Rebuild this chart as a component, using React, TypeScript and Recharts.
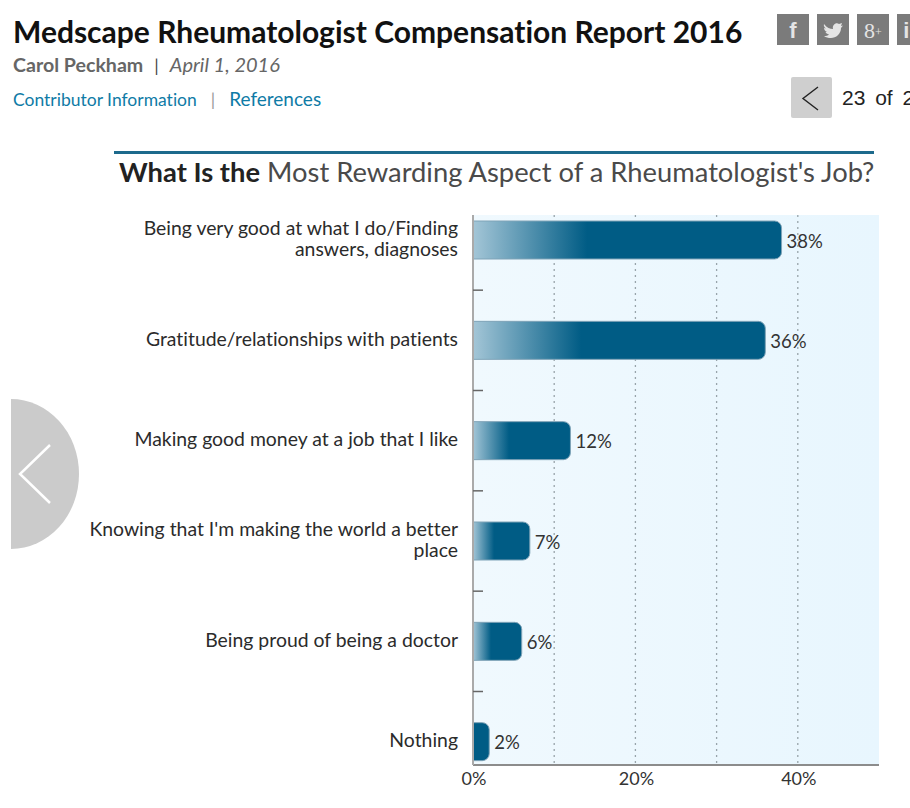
import React from 'react';
import { BarChart, Bar, XAxis, YAxis, CartesianGrid, Cell, LabelList } from 'recharts';

const categories = [
  'Being very good at what I do/Finding\nanswers, diagnoses',
  'Gratitude/relationships with patients',
  'Making good money at a job that I like',
  "Knowing that I'm making the world a better\nplace",
  'Being proud of being a doctor',
  'Nothing',
];
const percents = [38, 36, 12, 7, 6, 2];
const axisTicks = [0, 10, 20, 30, 40, 50];
const axisLabels = [0, 20, 40];
const gridValues = [10, 20, 30, 40];

const data = categories.map((name, i) => ({ name, value: percents[i] }));

const FONT = 'Lato, "Open Sans", sans-serif';

// category label plus the short tick halfway down to the next bar
const CategoryTick = (props: any) => {
  const { y, payload, index } = props;
  const lines = String(payload.value).split('\n');
  const top = y - 2 - ((lines.length - 1) * 21) / 2;
  return (
    <g>
      {lines.map((line, i) => (
        <text key={i} x={458} y={top + i * 21} textAnchor="end" dominantBaseline="central" fontSize={19.4} fill="#2b2b2b" fontFamily={FONT} style={{ fontVariantLigatures: 'none' }}>
          {line}
        </text>
      ))}
      {index < categories.length - 1 && (
        <line x1={473} x2={483} y1={y + 50} y2={y + 50} stroke="#666" strokeWidth={1.5} />
      )}
    </g>
  );
};

const PercentTick = (props: any) => {
  const { x, y, payload } = props;
  if (!axisLabels.includes(payload.value)) return null;
  return (
    <text x={x + 1} y={y + 5} textAnchor="middle" dominantBaseline="central" fontSize={18} fill="#333" fontFamily={FONT}>
      {payload.value}%
    </text>
  );
};

const Social = ({ left, children }: { left: number; children: React.ReactNode }) => (
  <div style={{ position: 'absolute', left, top: 14, width: 32, height: 31, background: '#7b7b7b', color: '#e4e4e4', fontWeight: 700, fontSize: 22, lineHeight: '31px', textAlign: 'center', overflow: 'hidden' }}>
    {children}
  </div>
);

const App = () => {
  return (
    <div style={{ position: 'fixed', left: 0, top: 0, width: 910, height: 808, overflow: 'hidden', background: '#fff', fontFamily: FONT, fontVariantLigatures: 'none' }}>
      <div style={{ position: 'absolute', left: 13, top: 12, fontSize: 30, fontWeight: 700, color: '#111', whiteSpace: 'nowrap', lineHeight: '38px' }}>
        Medscape Rheumatologist Compensation Report 2016
      </div>
      <div style={{ position: 'absolute', left: 13, top: 52, fontSize: 19.6, color: '#666', whiteSpace: 'nowrap', lineHeight: '24px' }}>
        <b>Carol Peckham</b><span style={{ color: '#444', margin: '0 11px', fontSize: 18 }}>|</span><i style={{ fontSize: 20 }}>April 1, 2016</i>
      </div>
      <div style={{ position: 'absolute', left: 13, top: 87, fontSize: 17.5, color: '#0f7ba6', whiteSpace: 'nowrap', lineHeight: '24px' }}>
        Contributor Information<span style={{ color: '#999', margin: '0 14px' }}>|</span><span style={{ fontSize: 19 }}>References</span>
      </div>

      <Social left={777}><span style={{ fontFamily: 'Liberation Sans' }}>f</span></Social>
      <Social left={817}>
        <svg width={32} height={31} style={{ display: 'block' }}>
          <path d="M7 10 C10 14 13 15 16 15 C15 11 19 8 22 10 L25 9 L24 12 L26 11.5 L24 14 C24 20 19 24 14 24 C11 24 9 23.5 7 22 C9 22 11 21.5 12 20.5 C10 20 9 19 8.5 18 L10 18 C8 17 7 15.5 7 14 L9 14.5 C7 13 6.5 11.5 7 10 Z" fill="#e4e4e4" />
        </svg>
      </Social>
      <Social left={857}><span style={{ fontFamily: 'Liberation Serif', fontWeight: 400 }}>8<span style={{ fontSize: 12, verticalAlign: 'middle' }}>+</span></span></Social>
      <Social left={897}><span style={{ fontFamily: 'Liberation Sans' }}>in</span></Social>

      <div style={{ position: 'absolute', left: 791, top: 77, width: 41, height: 41, background: '#cfcfcf', borderRadius: 2 }} />
      <svg style={{ position: 'absolute', left: 791, top: 77 }} width={41} height={41}>
        <polyline points="27,10 12,21.5 27,33" fill="none" stroke="#222" strokeWidth={1.4} />
      </svg>
      <div style={{ position: 'absolute', left: 842, top: 85, fontSize: 21, fontFamily: 'Liberation Sans', color: '#222', whiteSpace: 'nowrap', lineHeight: '26px', wordSpacing: 4 }}>
        23 of 2
      </div>

      <div style={{ position: 'absolute', left: 114, top: 151, width: 760, height: 3, background: '#1d6a8c' }} />
      <div style={{ position: 'absolute', left: 119, top: 155, fontSize: 27.35, color: '#4a4a4a', whiteSpace: 'nowrap', lineHeight: '34px' }}>
        <b style={{ color: '#222' }}>What Is the</b> Most Rewarding Aspect of a Rheumatologist's Job?
      </div>

      <div style={{ position: 'absolute', left: 0, top: 0 }}>
        <BarChart width={910} height={808} data={data} layout="vertical" margin={{ top: 215, right: 31, bottom: 0, left: 0 }} barSize={38}>
          <defs>
            <linearGradient id="barFill" x1="0" y1="0" x2="1" y2="0">
              <stop offset="0" stopColor="#a4c6d7" />
              <stop offset="0.37" stopColor="#005c85" />
              <stop offset="1" stopColor="#005c85" />
            </linearGradient>
            <linearGradient id="plotFill" x1="0" y1="0" x2="1" y2="0">
              <stop offset="0" stopColor="#f0f9fe" />
              <stop offset="1" stopColor="#e8f6fe" />
            </linearGradient>
          </defs>
          <CartesianGrid horizontal={false} verticalValues={gridValues} fill="url(#plotFill)" stroke="#98a4aa" strokeWidth={1.3} strokeDasharray="2 4" />
          <XAxis type="number" domain={[0, 50]} ticks={axisTicks} tick={PercentTick} tickLine={false} height={43} axisLine={{ stroke: '#8c8c8c', strokeWidth: 2 }} />
          <YAxis type="category" dataKey="name" width={473} padding={{ top: -25, bottom: -27 }} tick={CategoryTick} tickLine={false} axisLine={{ stroke: '#aaa', strokeWidth: 2 }} interval={0} />
          <Bar dataKey="value" fill="url(#barFill)" stroke="#7fa3b7" radius={[0, 7, 7, 0]} isAnimationActive={false}>
            {data.map((d) => (
              <Cell key={d.name} fill={d.value < 5 ? '#005c85' : 'url(#barFill)'} />
            ))}
            <LabelList dataKey="value" position="right" offset={5} dy={1} formatter={(v: any) => `${v}%`} fontSize={18.5} fill="#333" fontFamily={FONT} />
          </Bar>
        </BarChart>
      </div>

      <svg style={{ position: 'absolute', left: 11, top: 399 }} width={68} height={150}>
        <ellipse cx={0} cy={75} rx={68} ry={75} fill="#cbcbcb" />
        <polyline points="39,46 9,75 39,104" fill="none" stroke="#fff" strokeWidth={2.5} />
      </svg>
    </div>
  );
};

export default App;
